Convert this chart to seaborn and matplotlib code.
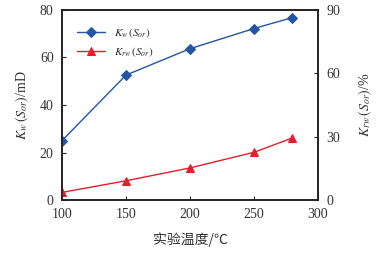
import numpy as np
import pandas as pd
import matplotlib
matplotlib.use("Agg")
import matplotlib.pyplot as plt
import seaborn as sns

temps = [100, 150, 200, 250, 280]
kw_vals = [25.0, 52.6, 63.7, 72.2, 76.8]
krw_vals = [3.6, 9.1, 15.2, 22.6, 29.4]
x_ticks = [100, 150, 200, 250, 300]
left_ticks = [0, 20, 40, 60, 80]
right_ticks = [0, 30, 60, 90]

sns.set_theme(style="ticks")
plt.rcParams['font.family'] = ['Liberation Serif', 'Noto Sans CJK SC', 'DejaVu Sans']
plt.rcParams['mathtext.fontset'] = 'stix'
plt.rcParams['xtick.direction'] = 'in'
plt.rcParams['ytick.direction'] = 'in'

df = pd.DataFrame({"T": temps, "Kw": kw_vals, "Krw": krw_vals})

fig = plt.figure(figsize=(3.91, 2.54), dpi=100)
ax = fig.add_axes([62/391, 54/254, 256/391, 190/254])
ax2 = ax.twinx()

blue = "#2456A4"
red = "#E61E2B"

sns.lineplot(data=df, x="T", y="Kw", ax=ax, color=blue, marker="D", markersize=5,
             markeredgecolor=blue, linewidth=1.0, label=r"$K_w\,(S_{or})$", legend=False)
sns.lineplot(data=df, x="T", y="Krw", ax=ax2, color=red, marker="^", markersize=6,
             markeredgecolor=red, linewidth=1.0, label=r"$K_{rw}\,(S_{or})$", legend=False)

ax.set_xlim(100, 300)
ax.set_ylim(0, 80)
ax2.set_ylim(0, 90)
ax.set_xticks(x_ticks)
ax.set_yticks(left_ticks)
ax2.set_yticks(right_ticks)

for a in (ax, ax2):
    a.tick_params(labelsize=10, length=3, width=0.8, colors="#222222", labelcolor="#333333", pad=6)
    for s in a.spines.values():
        s.set_linewidth(1.2)
        s.set_color("#222222")

ax.set_xlabel("实验温度/℃", fontsize=10, color="#333333", family=['Noto Sans CJK SC', 'DejaVu Sans'], labelpad=8)
ax.set_ylabel(r"$K_w\,(S_{or})$/mD", fontsize=10, color="#333333", labelpad=6)
ax2.set_ylabel(r"$K_{rw}\,(S_{or})$/%", fontsize=10, color="#333333", labelpad=12)

h1, l1 = ax.get_legend_handles_labels()
h2, l2 = ax2.get_legend_handles_labels()
ax.legend(h1 + h2, l1 + l2, loc="upper left", frameon=False, fontsize=8,
          bbox_to_anchor=(0.02, 0.97), handlelength=2.5, labelspacing=0.5)

fig.savefig("out.png", dpi=100)
